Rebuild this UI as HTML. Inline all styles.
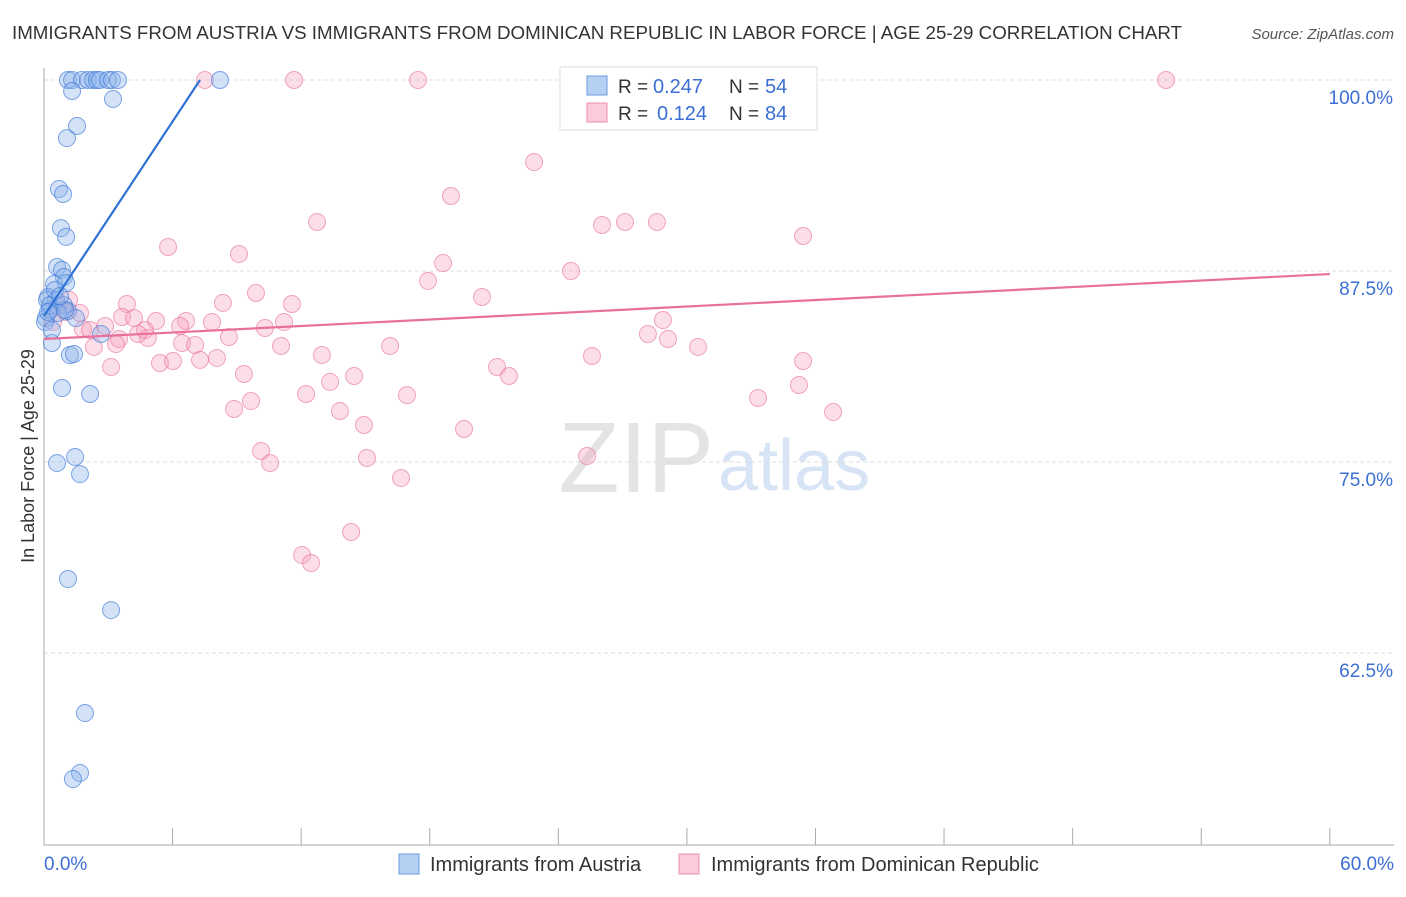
<!DOCTYPE html>
<html><head><meta charset="utf-8"><style>
body{margin:0;background:#fff;font-family:"Liberation Sans",sans-serif}
svg text{font-family:"Liberation Sans",sans-serif}
</style></head><body>
<svg id="chart" width="1406" height="892">
<text x="12" y="39" font-size="18" fill="#333" textLength="1170" lengthAdjust="spacingAndGlyphs">IMMIGRANTS FROM AUSTRIA VS IMMIGRANTS FROM DOMINICAN REPUBLIC IN LABOR FORCE | AGE 25-29 CORRELATION CHART</text>
<text x="1394" y="39" font-size="15" fill="#555" text-anchor="end" font-style="italic">Source: ZipAtlas.com</text>
<text x="714" y="492" font-size="100" fill="#e4e4e4" text-anchor="end" font-family="Liberation Serif">ZIP</text>
<text x="718" y="490" font-size="72" fill="#d6e4f5">atlas</text>
<g id="grid"></g><g id="axes"></g><g id="pink"></g><g id="blue"></g><g id="lines"></g>
<text transform="translate(34,456) rotate(-90)" font-size="18" fill="#333" text-anchor="middle">In Labor Force | Age 25-29</text>
<text x="44" y="870" font-size="19" fill="#3b6fd4">0.0%</text>
<text x="1394" y="870" font-size="19" fill="#3b6fd4" text-anchor="end">60.0%</text>
<g>
<rect x="560" y="67" width="257" height="63" fill="#fff" stroke="#ddd"/>
<rect x="587" y="76" width="20" height="19" fill="#b6d0f3" stroke="#6a9be0"/>
<rect x="587" y="103" width="20" height="19" fill="#fbcadb" stroke="#ec8fb0"/>
<text x="618" y="93" font-size="19" fill="#333">R =</text>
<text x="653" y="93" font-size="20" fill="#3b6fd4">0.247</text>
<text x="729" y="93" font-size="19" fill="#333">N =</text>
<text x="765" y="93" font-size="20" fill="#3b6fd4">54</text>
<text x="618" y="120" font-size="19" fill="#333">R =</text>
<text x="657" y="120" font-size="20" fill="#3b6fd4">0.124</text>
<text x="729" y="120" font-size="19" fill="#333">N =</text>
<text x="765" y="120" font-size="20" fill="#3b6fd4">84</text>
</g>
<g>
<rect x="399" y="854" width="20" height="20" fill="#b6d0f3" stroke="#6a9be0"/>
<text x="430" y="871" font-size="20" fill="#333">Immigrants from Austria</text>
<rect x="679" y="854" width="20" height="20" fill="#fbcadb" stroke="#ec8fb0"/>
<text x="711" y="871" font-size="20" fill="#333">Immigrants from Dominican Republic</text>
</g>
</svg>
<script>
const yTicks=[100,87.5,75,62.5];
const yTickLabels=["100.0%","87.5%","75.0%","62.5%"];
const xTicks=[0,6,12,18,24,30,36,42,48,54,60];
const blueX=[1.12,1.31,1.77,2.05,2.29,2.47,2.61,2.99,3.17,3.45,8.21,1.31,3.22,1.54,1.07,0.70,0.89,0.79,1.03,0.61,0.84,0.93,0.47,1.03,0.19,0.56,0.93,1.12,0.28,0.09,1.49,0.37,1.21,1.40,2.66,0.84,2.15,0.61,1.45,1.68,1.12,3.13,1.91,1.68,1.35,0.14,0.28,0.05,0.65,0.37,0.98,0.51,0.75,0.19];
const blueY=[100,100,100,100,100,100,100,100,100,100,100,99.28,98.76,96.99,96.2,92.87,92.54,90.31,89.73,87.76,87.57,87.11,86.65,86.71,85.8,85.6,85.27,84.88,84.95,84.42,84.42,82.79,82.0,82.07,83.38,79.84,79.45,74.93,75.33,74.21,67.34,65.31,58.57,54.65,54.25,85.6,85.27,84.16,84.75,83.64,84.95,86.26,85.86,84.82];
const pinkX=[7.51,11.67,17.45,52.36,22.87,18.99,12.74,26.04,27.11,28.6,35.42,5.79,9.1,18.62,24.59,17.92,9.89,20.44,8.35,11.57,3.87,1.17,1.03,3.64,5.23,6.63,7.84,4.2,11.2,28.88,4.71,6.35,1.82,2.85,10.31,8.63,4.85,4.39,3.5,28.18,29.12,6.44,7.05,2.33,3.36,11.06,16.15,30.52,12.97,25.57,5.41,6.02,7.28,8.07,3.13,21.14,35.42,9.33,14.47,21.7,13.35,35.23,12.23,16.94,9.66,33.32,8.87,13.81,36.82,14.93,19.6,10.13,15.07,10.55,25.34,16.66,14.33,12.04,12.46,0.42,0.65,1.68,2.15];
const pinkY=[100,100,100,100,94.63,92.41,90.71,90.51,90.71,90.71,89.79,89.07,88.61,88.02,87.5,86.85,86.06,85.8,85.41,85.34,85.34,85.6,84.82,84.49,84.23,84.23,84.16,84.42,84.16,84.29,83.64,83.9,83.7,83.9,83.77,83.18,83.12,83.38,83.05,83.38,83.05,82.79,82.66,82.53,82.72,82.59,82.59,82.53,82.0,81.94,81.48,81.61,81.68,81.81,81.22,81.22,81.61,80.76,80.63,80.63,80.24,80.04,79.45,79.38,78.99,79.19,78.47,78.34,78.27,77.42,77.16,75.72,75.26,74.93,75.39,73.95,70.42,68.91,68.39,84.16,85.21,84.75,83.64];
const blueTrend=[[0,84.55],[7.28,100]];
const pinkTrend=[[0,83.05],[60,87.3]];
const NS="http://www.w3.org/2000/svg";
const sx=v=>44+v*21.43;
const sy=v=>80+(100-v)*15.28;
function mk(tag,attrs,parent){const e=document.createElementNS(NS,tag);for(const k in attrs)e.setAttribute(k,attrs[k]);document.getElementById(parent).appendChild(e);return e;}
yTicks.forEach((t,i)=>{
  const l=mk('line',{x1:44,x2:1394,y1:sy(t),y2:sy(t),stroke:'#ddd','stroke-dasharray':'4,3'},'grid');
  
  
  const tx=mk('text',{x:1393,y:sy(t)+24,'font-size':19,fill:'#3b6fd4','text-anchor':'end'},'grid');
  tx.textContent=yTickLabels[i];
  
  
});
const ax=mk('line',{x1:44,x2:44,y1:68,y2:845,stroke:'#aaa'},'axes');


const bx=mk('line',{x1:44,x2:1394,y1:845,y2:845,stroke:'#aaa'},'axes');


xTicks.forEach(t=>{
  const l=mk('line',{x1:sx(t),x2:sx(t),y1:828,y2:845,stroke:'#aaa'},'axes');
  
  
});
pinkX.forEach((x,i)=>{
  const c=mk('circle',{cx:sx(x),cy:sy(pinkY[i]),r:8.5,fill:'rgba(246,160,190,0.35)',stroke:'rgba(232,110,150,0.6)','stroke-width':1},'pink');
  
  
});
blueX.forEach((x,i)=>{
  const c=mk('circle',{cx:sx(x),cy:sy(blueY[i]),r:8.5,fill:'rgba(140,180,235,0.38)',stroke:'rgba(60,120,215,0.65)','stroke-width':1},'blue');
  
  
});
const bl=mk('line',{x1:sx(blueTrend[0][0]),y1:sy(blueTrend[0][1]),x2:sx(blueTrend[1][0]),y2:sy(blueTrend[1][1]),stroke:'#2f72d6','stroke-width':2.2},'lines');


const pl=mk('line',{x1:sx(pinkTrend[0][0]),y1:sy(pinkTrend[0][1]),x2:sx(pinkTrend[1][0]),y2:sy(pinkTrend[1][1]),stroke:'#e8709a','stroke-width':2.2},'lines');


</script>
</body></html>
